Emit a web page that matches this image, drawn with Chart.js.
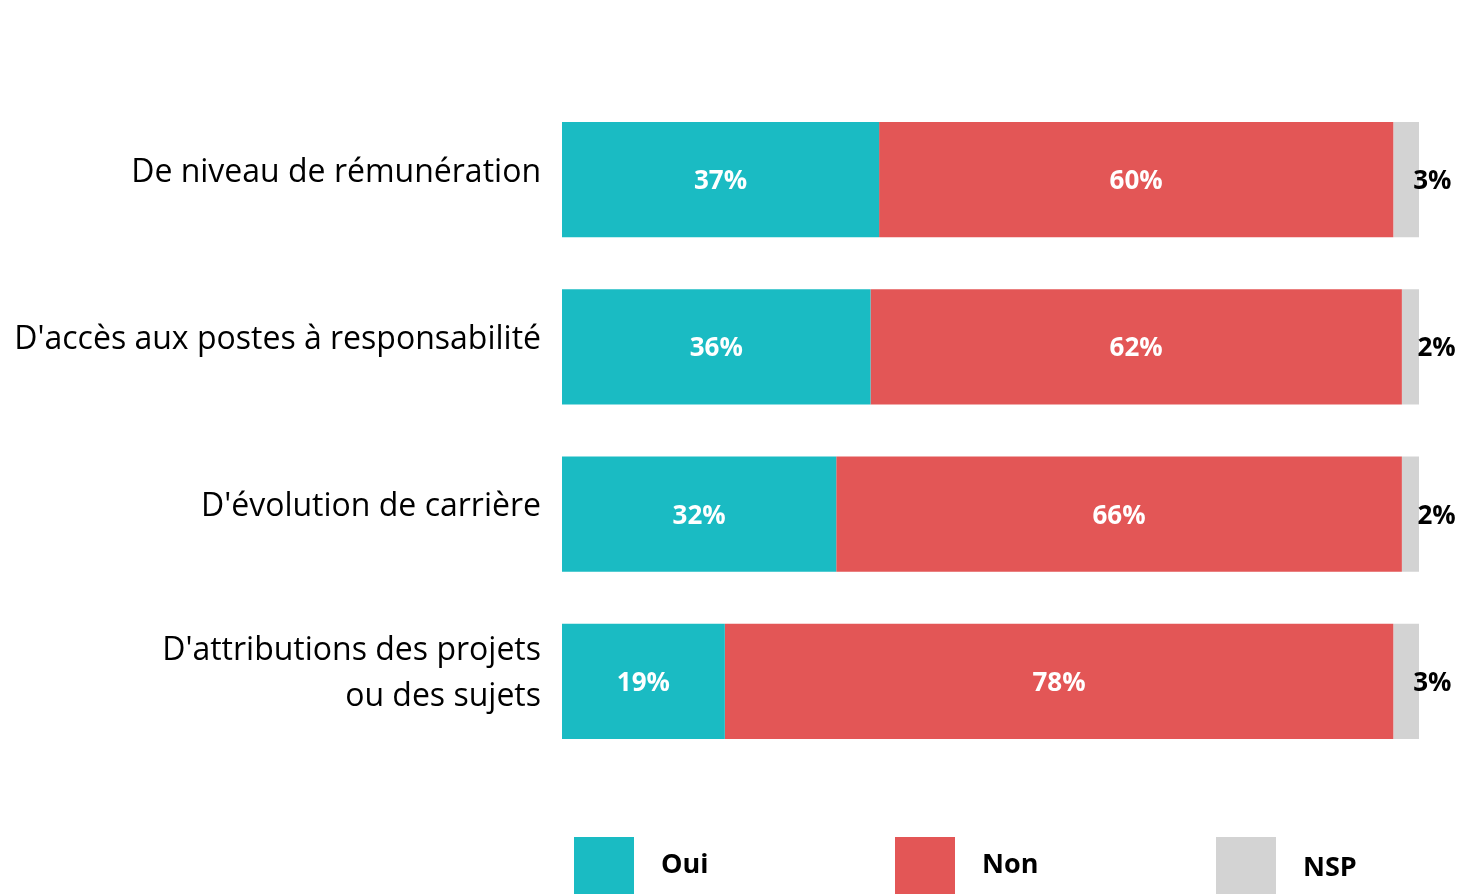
<!DOCTYPE html>
<html>
<head>
<meta charset="utf-8">
<script src="https://cdn.jsdelivr.net/npm/chart.js@4"></script>
<style>
    body { margin: 0; background: #fff; }
    #wrap { width: 1461px; height: 894px; position: relative; }
</style>
</head>
<body>
<div id="wrap"><canvas id="chart"></canvas></div>
<script>
// Données du graphique
const categories = [
    'De niveau de rémunération',
    "D'accès aux postes à responsabilité",
    "D'évolution de carrière",
    ["D'attributions des projets", 'ou des sujets']
];
const seriesNames = ['Oui', 'Non', 'NSP'];
const oui = [37, 36, 32, 19];
const non = [60, 62, 66, 78];
const nsp = [3, 2, 2, 3];

const colors = ['#1ABBC3', '#E35656', '#D3D3D3'];
const FONT = "'Open Sans', 'Liberation Sans', sans-serif";

// Libellés des catégories (dessinés un peu au-dessus du centre de la barre)
const categoryLabels = {
    id: 'categoryLabels',
    afterDraw(chart) {
        const ctx = chart.ctx;
        const yScale = chart.scales.y;
        const right = chart.chartArea.left - 21;
        ctx.save();
        ctx.font = '32px ' + FONT;
        ctx.fillStyle = '#000000';
        ctx.textAlign = 'right';
        ctx.textBaseline = 'middle';
        chart.data.labels.forEach((lbl, i) => {
            const lines = Array.isArray(lbl) ? lbl : [lbl];
            const cy = yScale.getPixelForTick(i) - 7;
            const lh = 46;
            lines.forEach((line, j) => {
                const y = cy + (j - (lines.length - 1) / 2) * lh;
                ctx.fillText(line, right, y);
            });
        });
        ctx.restore();
    }
};

// Étiquettes de valeurs dans les barres
const valueLabels = {
    id: 'valueLabels',
    afterDatasetsDraw(chart) {
        const ctx = chart.ctx;
        ctx.save();
        ctx.font = 'bold 26px ' + FONT;
        ctx.textBaseline = 'middle';
        chart.data.datasets.forEach((ds, di) => {
            const meta = chart.getDatasetMeta(di);
            meta.data.forEach((bar, i) => {
                const mid = (bar.x + bar.base) / 2;
                const txt = ds.data[i] + '%';
                if (di < 2) {
                    ctx.fillStyle = '#ffffff';
                    ctx.textAlign = 'center';
                    ctx.fillText(txt, mid, bar.y + 2);
                } else {
                    // NSP : texte noir à droite de la barre
                    ctx.fillStyle = '#000000';
                    ctx.textAlign = 'left';
                    ctx.fillText(txt, mid + 7, bar.y + 2);
                }
            });
        });
        ctx.restore();
    }
};

// Légende dessinée à la main en bas
const bottomLegend = {
    id: 'bottomLegend',
    afterDraw(chart) {
        const ctx = chart.ctx;
        const area = chart.chartArea;
        const top = area.bottom + 72;
        ctx.save();
        ctx.font = 'bold 27px ' + FONT;
        ctx.textBaseline = 'middle';
        ctx.textAlign = 'left';
        seriesNames.forEach((name, i) => {
            const x = area.left + 12 + i * 321;
            ctx.fillStyle = colors[i];
            ctx.fillRect(x, top, 60, 60);
            ctx.fillStyle = '#000000';
            ctx.fillText(name, x + 87, top + 28 + (i === 2 ? 3 : 0));
        });
        ctx.restore();
    }
};

const config = {
    type: 'bar',
    data: {
        labels: categories,
        datasets: [
            { label: seriesNames[0], data: oui, backgroundColor: colors[0] },
            { label: seriesNames[1], data: non, backgroundColor: colors[1] },
            { label: seriesNames[2], data: nsp, backgroundColor: colors[2] }
        ]
    },
    options: {
        indexAxis: 'y',
        responsive: true,
        maintainAspectRatio: false,
        animation: false,
        datasets: {
            bar: { barPercentage: 0.69, categoryPercentage: 1 }
        },
        layout: {
            padding: { top: 96, bottom: 129, right: 42, left: 0 }
        },
        plugins: {
            legend: { display: false },
            tooltip: { enabled: false }
        },
        scales: {
            x: {
                stacked: true,
                min: 0,
                max: 100,
                display: false
            },
            y: {
                stacked: true,
                grid: { display: false },
                border: { display: false },
                afterFit(scale) { scale.width = 562; },
                ticks: { display: false }
            }
        }
    },
    plugins: [categoryLabels, valueLabels, bottomLegend]
};

new Chart(document.getElementById('chart').getContext('2d'), config);
</script>
</body>
</html>
